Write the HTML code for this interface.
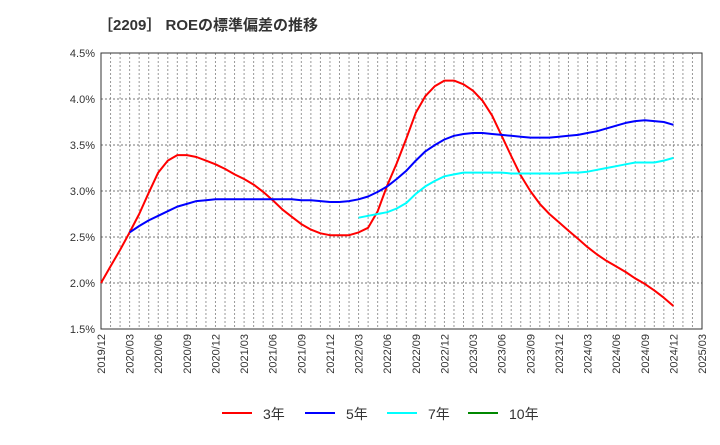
<!DOCTYPE html>
<html><head><meta charset="utf-8"><style>
body{margin:0;background:#fff;font-family:"Liberation Sans","Noto Sans CJK JP",sans-serif}
svg text{font-family:"Liberation Sans","Noto Sans CJK JP",sans-serif}
</style></head><body>
<svg id="c" width="720" height="440" xmlns="http://www.w3.org/2000/svg">
<text x="98" y="30" font-size="15" font-weight="bold" fill="#333">［2209］ ROEの標準偏差の推移</text>
<g id="grid"></g><g id="axes"></g><g id="series"></g><g id="legend"></g>
</svg>
<script>
const xLabels=["2019/12","2020/03","2020/06","2020/09","2020/12","2021/03","2021/06","2021/09","2021/12","2022/03","2022/06","2022/09","2022/12","2023/03","2023/06","2023/09","2023/12","2024/03","2024/06","2024/09","2024/12","2025/03"];
const yTicks=[1.5,2.0,2.5,3.0,3.5,4.0,4.5];
const s3Start=0;
const s3=[2.0,2.18,2.36,2.55,2.75,2.98,3.2,3.33,3.39,3.39,3.37,3.33,3.29,3.24,3.18,3.13,3.07,2.99,2.9,2.8,2.72,2.64,2.58,2.54,2.52,2.52,2.52,2.55,2.6,2.78,3.06,3.3,3.57,3.85,4.03,4.14,4.2,4.2,4.16,4.09,3.98,3.82,3.6,3.38,3.17,3.0,2.86,2.75,2.66,2.57,2.48,2.39,2.31,2.24,2.18,2.12,2.05,1.99,1.92,1.84,1.75];
const s5Start=3;
const s5=[2.55,2.62,2.68,2.73,2.78,2.83,2.86,2.89,2.9,2.91,2.91,2.91,2.91,2.91,2.91,2.91,2.91,2.91,2.9,2.9,2.89,2.88,2.88,2.89,2.91,2.94,2.99,3.05,3.13,3.22,3.33,3.43,3.5,3.56,3.6,3.62,3.63,3.63,3.62,3.61,3.6,3.59,3.58,3.58,3.58,3.59,3.6,3.61,3.63,3.65,3.68,3.71,3.74,3.76,3.77,3.76,3.75,3.72];
const s7Start=27;
const s7=[2.71,2.73,2.75,2.77,2.81,2.87,2.97,3.05,3.11,3.16,3.18,3.2,3.2,3.2,3.2,3.2,3.19,3.19,3.19,3.19,3.19,3.19,3.2,3.2,3.21,3.23,3.25,3.27,3.29,3.31,3.31,3.31,3.33,3.36];
const s10Start=0;
const s10=[];
const L=101,R=702,T=53,B=329,NM=63;
const NS="http://www.w3.org/2000/svg";
const xs=m=>L+(R-L)*m/NM;
const ys=v=>B-(v-1.5)/3.0*(B-T);
function mk(tag,attrs,parent){const e=document.createElementNS(NS,tag);for(const k in attrs)e.setAttribute(k,attrs[k]);parent.appendChild(e);return e;}
const grid=document.getElementById('grid'),axes=document.getElementById('axes'),ser=document.getElementById('series'),leg=document.getElementById('legend');
for(let m=1;m<NM;m++){const l=mk('line',{x1:xs(m),x2:xs(m),y1:T,y2:B,stroke:'#999','stroke-dasharray':'2,2','stroke-width':1},grid);

}
yTicks.forEach(v=>{const l=mk('line',{x1:L,x2:R,y1:ys(v),y2:ys(v),stroke:'#777','stroke-dasharray':'2,2','stroke-width':1},grid);


const t=mk('text',{x:L-6,y:ys(v)+4,'text-anchor':'end','font-size':11,fill:'#333'},axes);
t.textContent=v.toFixed(1)+'%';

});
xLabels.forEach((s,i)=>{const x=xs(i*3),y=B+5;const t=mk('text',{x:x+4,y:y,'text-anchor':'end','font-size':11,fill:'#333',transform:`rotate(-90 ${x+4} ${y})`},axes);
t.textContent=s;

});
const frame=mk('rect',{x:L,y:T,width:R-L,height:B-T,fill:'none',stroke:'#333','stroke-width':1},axes);


function line(arr,start,color,name){if(!arr.length)return;const d=arr.map((v,i)=>(i?'L':'M')+xs(start+i).toFixed(1)+','+ys(v).toFixed(1)).join(' ');
const p=mk('path',{d:d,fill:'none',stroke:color,'stroke-width':2,'stroke-linejoin':'round'},ser);

}
line(s3,s3Start,'#f00','series-3y');
line(s5,s5Start,'#00f','series-5y');
line(s7,s7Start,'#0ff','series-7y');
line(s10,s10Start,'#080','series-10y');
[["3年","#f00",222],["5年","#00f",305],["7年","#0ff",387],["10年","#080",468]].forEach(e=>{
const g=mk('g',{},leg);


mk('line',{x1:e[2],x2:e[2]+30,y1:413,y2:413,stroke:e[1],'stroke-width':2},g);
const t=mk('text',{x:e[2]+41,y:419,'font-size':14,fill:'#333'},g);t.textContent=e[0];});
</script>
</body></html>
